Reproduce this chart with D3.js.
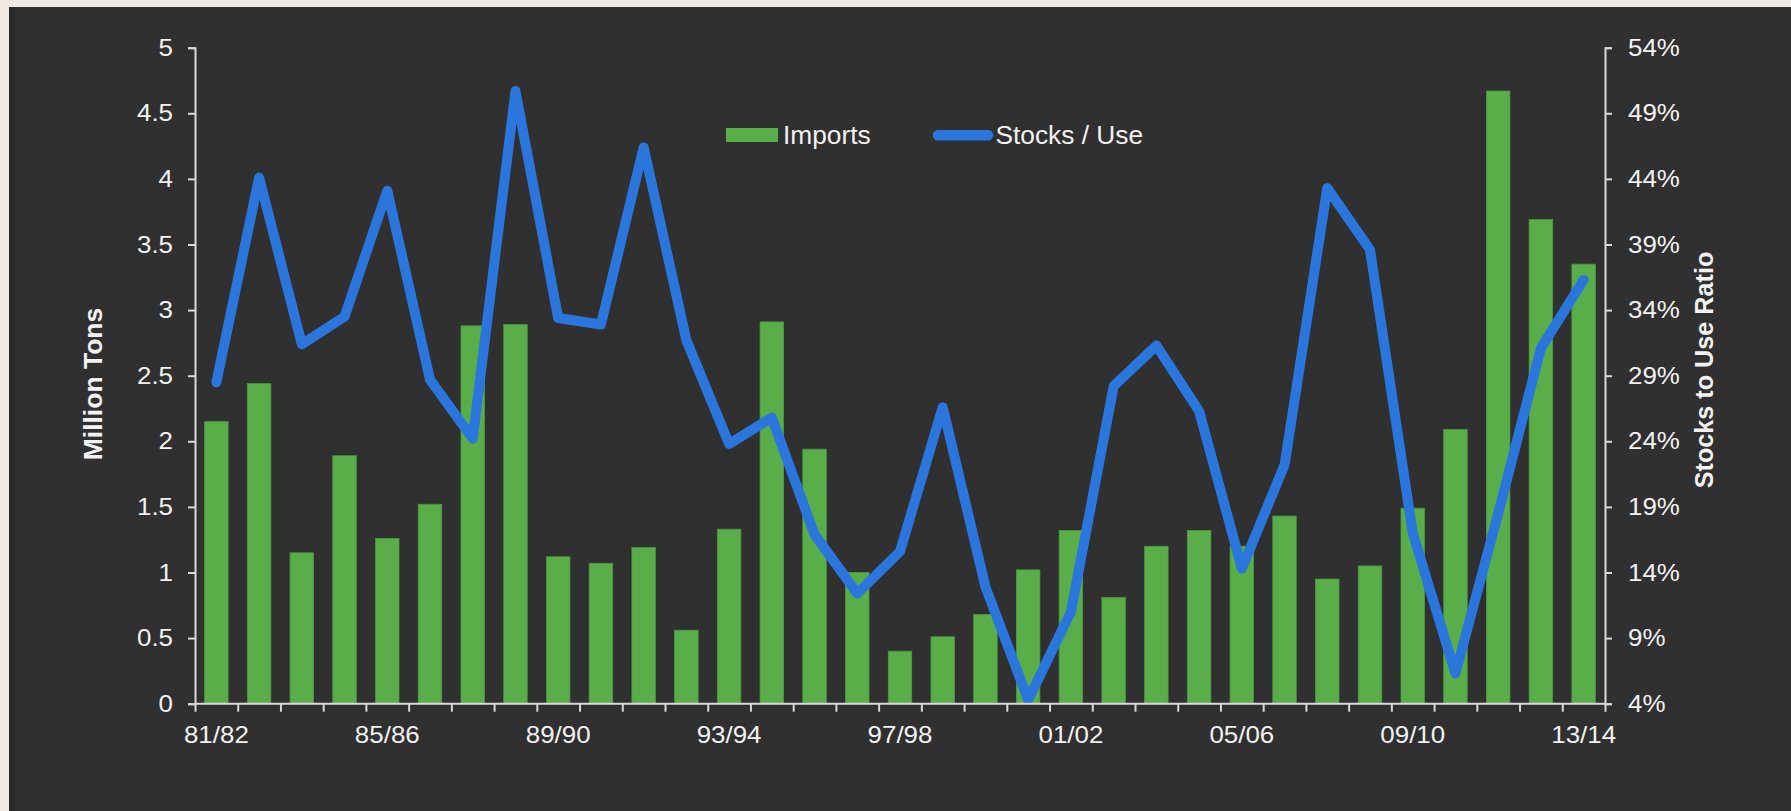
<!DOCTYPE html>
<html>
<head>
<meta charset="utf-8">
<script src="https://cdn.jsdelivr.net/npm/d3@7"></script>
<style>
  body { margin: 0; background: #f0e8e2; }
  svg { display: block; font-family: "Liberation Sans", Arial, sans-serif; }
</style>
</head>
<body>
<div id="chart"></div>
<script>
var W = 1791, H = 811;
var margin = {top: 47.7, right: 186, bottom: 107.3, left: 195};
var plotW = W - margin.left - margin.right,
    plotH = H - margin.top - margin.bottom;

// data
var seasons = ["81/82","82/83","83/84","84/85","85/86","86/87","87/88","88/89","89/90","90/91",
  "91/92","92/93","93/94","94/95","95/96","96/97","97/98","98/99","99/00","00/01",
  "01/02","02/03","03/04","04/05","05/06","06/07","07/08","08/09","09/10","10/11",
  "11/12","12/13","13/14"];
var imports = [2.15, 2.44, 1.15, 1.89, 1.26, 1.52, 2.88, 2.89, 1.12, 1.07,
  1.19, 0.56, 1.33, 2.91, 1.94, 1.00, 0.40, 0.51, 0.68, 1.02,
  1.32, 0.81, 1.20, 1.32, 1.20, 1.43, 0.95, 1.05, 1.49, 2.09,
  4.67, 3.69, 3.35];
var stocksUse = [28.5, 44.1, 31.4, 33.5, 43.1, 28.7, 24.2, 50.7, 33.4, 32.9,
  46.4, 31.7, 23.8, 25.8, 16.9, 12.4, 15.6, 26.6, 12.9, 4.3,
  11.0, 28.2, 31.3, 26.3, 14.3, 22.2, 43.3, 38.6, 17.0, 6.3,
  18.5, 31.1, 36.3];
var leftTicks = [0, 0.5, 1, 1.5, 2, 2.5, 3, 3.5, 4, 4.5, 5];
var rightTicks = [4, 9, 14, 19, 24, 29, 34, 39, 44, 49, 54];
var xLabels = ["81/82","85/86","89/90","93/94","97/98","01/02","05/06","09/10","13/14"];

var barColor = "#59ae4a", lineColor = "#2a76dd", txtColor = "#f2f2f2", axisColor = "#d9d9d9";

var svg = d3.select("#chart").append("svg")
    .attr("width", W)
    .attr("height", H);

// dark panel over the photo background
svg.append("rect").attr("x", 9).attr("y", 7).attr("width", W - 9).attr("height", H - 7).attr("fill", "#303030");
svg.append("rect").attr("x", 9).attr("y", 7).attr("width", 6).attr("height", H - 7).attr("fill", "#2a2a2a");

var g = svg.append("g")
    .attr("transform", "translate(" + margin.left + "," + margin.top + ")");

var x = d3.scaleBand()
    .domain(seasons)
    .range([0, plotW])
    .paddingInner(0.45)
    .paddingOuter(0.225);
var xEdge = d3.scaleLinear().domain([0, seasons.length]).range([0, plotW]);
var y = d3.scaleLinear().domain([0, 5]).range([plotH, 0]);
var y2 = d3.scaleLinear().domain([4, 54]).range([plotH, 0]);

function stretch(sel, k) {
    sel.each(function() {
        var w = this.getComputedTextLength();
        d3.select(this).attr("textLength", w * k).attr("lengthAdjust", "spacingAndGlyphs");
    });
}

// bars
g.append("g")
    .selectAll("rect")
    .data(imports)
    .enter()
    .append("rect")
        .attr("x", function(d, i) { return x(seasons[i]) })
        .attr("y", function(d) { return y(d) })
        .attr("width", x.bandwidth())
        .attr("height", function(d) { return plotH - y(d) })
        .attr("fill", barColor)
        .attr("stroke", "#4c9940")
        .attr("stroke-width", 0.8);

// stocks / use line
g.append("path")
    .datum(stocksUse)
    .attr("fill", "none")
    .attr("stroke", lineColor)
    .attr("stroke-width", 10)
    .attr("stroke-linejoin", "round")
    .attr("stroke-linecap", "round")
    .attr("d", d3.line()
        .x(function(d, i) { return x(seasons[i]) + x.bandwidth() / 2 })
        .y(function(d) { return y2(d) })
    );

// axes
var axL = g.append("g")
    .call(d3.axisLeft(y).tickValues(leftTicks).tickSize(7).tickPadding(15).tickFormat(function(d) { return String(d) }));
var axR = g.append("g")
    .attr("transform", "translate(" + plotW + ",0)")
    .call(d3.axisRight(y2).tickValues(rightTicks).tickSize(7).tickPadding(16).tickFormat(function(d) { return d + "%" }));
var axB = g.append("g")
    .attr("transform", "translate(0," + plotH + ")")
    .call(d3.axisBottom(xEdge).tickValues(d3.range(0, seasons.length + 1)).tickSize(8).tickFormat(""));
var axBL = g.append("g")
    .attr("transform", "translate(0," + plotH + ")")
    .call(d3.axisBottom(x).tickValues(xLabels).tickSize(0).tickPadding(22));
axBL.select(".domain").remove();

[axL, axR, axB, axBL].forEach(function(a) {
    a.selectAll(".domain, line").attr("stroke", axisColor).attr("stroke-width", 2);
    a.selectAll("text")
        .attr("fill", txtColor)
        .style("font-size", "24px")
        .style("font-family", "'Liberation Sans', Arial, sans-serif");
    stretch(a.selectAll("text"), 1.08);
});
axB.select(".domain").attr("d", "M0,0H" + plotW);

// axis titles
svg.append("text")
    .attr("transform", "translate(101.7,384) rotate(-90)")
    .attr("text-anchor", "middle")
    .attr("fill", txtColor)
    .style("font-size", "26.5px")
    .style("font-weight", "bold")
    .text("Million Tons");

svg.append("text")
    .attr("transform", "translate(1713.3,370) rotate(-90)")
    .attr("text-anchor", "middle")
    .attr("fill", txtColor)
    .style("font-size", "25.2px")
    .style("font-weight", "bold")
    .text("Stocks to Use Ratio");

// legend
var leg = svg.append("g");
leg.append("rect")
    .attr("x", 726).attr("y", 128).attr("width", 52).attr("height", 14)
    .attr("fill", barColor);
leg.append("text")
    .attr("x", 783).attr("y", 144)
    .attr("fill", txtColor)
    .style("font-size", "26.3px")
    .text("Imports");
leg.append("line")
    .attr("x1", 938).attr("x2", 988).attr("y1", 135.3).attr("y2", 135.3)
    .attr("stroke", lineColor).attr("stroke-width", 10.5).attr("stroke-linecap", "round");
leg.append("text")
    .attr("x", 995.5).attr("y", 144)
    .attr("fill", txtColor)
    .style("font-size", "26.3px")
    .text("Stocks / Use");
</script>
</body>
</html>
